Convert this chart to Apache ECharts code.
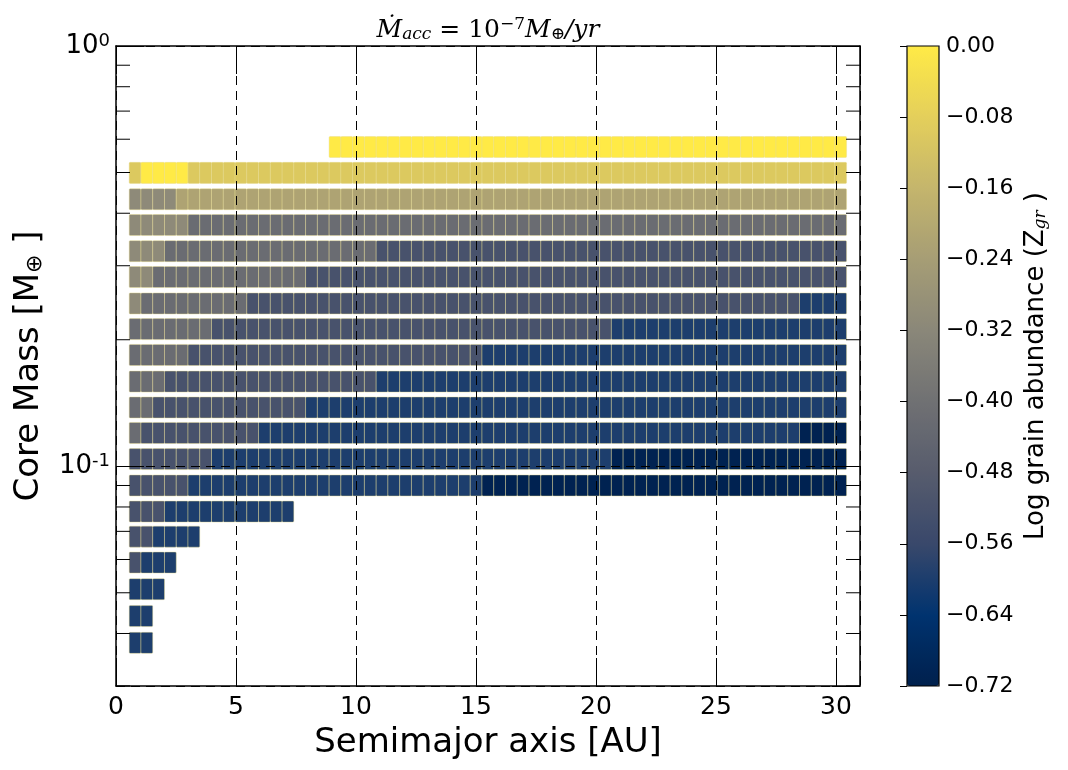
<!DOCTYPE html>
<html>
<head>
<meta charset="utf-8">
<script src="https://cdn.jsdelivr.net/npm/echarts@6/dist/echarts.min.js"></script>
<style>
  html, body { margin: 0; padding: 0; background: #fff; }
  #chart { width: 1068px; height: 770px; }
</style>
</head>
<body>
<div id="chart"></div>
<script>
// ── Data ─────────────────────────────────────────────────────────────────────

// core mass of each row of the grid [M_earth]
const coreMass = [0.038, 0.044, 0.051, 0.059, 0.068, 0.078, 0.090, 0.104, 0.120, 0.138,
                  0.159, 0.184, 0.212, 0.244, 0.282, 0.325, 0.375, 0.432, 0.499, 0.575];

// semimajor-axis cell edges of the simulation grid [AU] (61 cells, 0.55 .. 30.44)
const semimajorEdges = Array.from({ length: 62 }, (_, i) => +(0.55 + 0.49 * i).toFixed(2));

// per row: runs of [firstCell, endCell, log grain abundance]
const rowRuns = [
  [[0, 2, -0.60]],
  [[0, 2, -0.60]],
  [[0, 3, -0.60]],
  [[0, 1, -0.52], [1, 4, -0.60]],
  [[0, 2, -0.52], [2, 6, -0.60]],
  [[0, 3, -0.52], [3, 14, -0.60]],
  [[0, 5, -0.52], [5, 30, -0.60], [30, 61, -0.71]],
  [[0, 7, -0.52], [7, 41, -0.60], [41, 61, -0.71]],
  [[0, 1, -0.42], [1, 11, -0.52], [11, 57, -0.60], [57, 61, -0.71]],
  [[0, 2, -0.42], [2, 15, -0.52], [15, 61, -0.60]],
  [[0, 3, -0.42], [3, 21, -0.52], [21, 61, -0.60]],
  [[0, 5, -0.42], [5, 30, -0.52], [30, 61, -0.60]],
  [[0, 7, -0.42], [7, 41, -0.52], [41, 61, -0.60]],
  [[0, 1, -0.31], [1, 10, -0.42], [10, 57, -0.52], [57, 61, -0.60]],
  [[0, 2, -0.31], [2, 15, -0.42], [15, 61, -0.52]],
  [[0, 3, -0.31], [3, 21, -0.42], [21, 61, -0.52]],
  [[0, 5, -0.31], [5, 61, -0.42]],
  [[0, 4, -0.31], [4, 61, -0.22]],
  [[0, 1, -0.10], [1, 5, 0.00], [5, 61, -0.10]],
  [[17, 61, 0.00]],
];

// log-axis minor tick values
const minorTicks = [0.03, 0.04, 0.05, 0.06, 0.07, 0.08, 0.09,
                    0.2, 0.3, 0.4, 0.5, 0.6, 0.7, 0.8, 0.9];

// cividis colour map, low -> high
const cividis = ['#00204D', '#00336F', '#39486B', '#575C6D', '#707173',
                 '#8A8779', '#A69D75', '#C4B56C', '#E4CF5B', '#FFEA46'];

const cbarMin = -0.72, cbarMax = 0, cbarStep = 0.08;

// ── Build cells ──────────────────────────────────────────────────────────────

const cells = [];
rowRuns.forEach((runs, r) => {
  runs.forEach(([i0, i1, v]) => {
    for (let i = i0; i < i1; i++) {
      cells.push([semimajorEdges[i], semimajorEdges[i + 1], coreMass[r], v]);
    }
  });
});

const ROW_HALF = Math.pow(10, 0.025);   // half row height in dex
const FONT = 'DejaVu Sans';
const PLOT = { left: 116, top: 46, width: 744, height: 640 };
const CBAR = { left: 907, top: 46, width: 32, height: 640 };

const dashed = { color: '#000', width: 1, type: [9, 6] };

function renderCell(params, api) {
  const lo = api.coord([api.value(0), api.value(2) / ROW_HALF]);
  const hi = api.coord([api.value(1), api.value(2) * ROW_HALF]);
  return {
    type: 'rect',
    shape: { x: lo[0], y: hi[1], width: hi[0] - lo[0], height: lo[1] - hi[1], r: 1 },
    style: { fill: api.visual('color'), stroke: 'rgba(230,220,140,0.42)', lineWidth: 1 },
  };
}

function renderMinorTick(params, api) {
  const cs = params.coordSys;
  const y = api.coord([0, api.value(1)])[1];
  const len = 14;
  return {
    type: 'group',
    children: [
      { type: 'line', shape: { x1: cs.x, y1: y, x2: cs.x + len, y2: y }, style: { stroke: '#000', lineWidth: 1 } },
      { type: 'line', shape: { x1: cs.x + cs.width - len, y1: y, x2: cs.x + cs.width, y2: y }, style: { stroke: '#000', lineWidth: 1 } },
    ],
  };
}

const chart = echarts.init(document.getElementById('chart'), null, { renderer: 'canvas' });

chart.setOption({
  animation: false,
  backgroundColor: '#fff',
  textStyle: { fontFamily: FONT },
  grid: [
    { ...PLOT, outerBoundsMode: 'none' },
    { ...CBAR, outerBoundsMode: 'none' },
  ],
  xAxis: [
    {
      type: 'value', gridIndex: 0, min: 0, max: 31, interval: 5, position: 'bottom', z: 5,
      name: 'Semimajor axis [AU]', nameLocation: 'middle', nameGap: 40,
      nameTextStyle: { fontSize: 34, color: '#000', fontFamily: FONT },
      axisLine: { show: true, onZero: false, lineStyle: { color: '#000', width: 1.5 } },
      axisTick: { show: true, inside: true, length: 28, lineStyle: { color: '#000' } },
      axisLabel: { fontSize: 25, color: '#000', margin: 9, showMaxLabel: false, fontFamily: FONT },
      splitLine: { show: true, lineStyle: dashed },
    },
    {
      type: 'value', gridIndex: 0, min: 0, max: 31, interval: 5, position: 'top', z: 5,
      axisLine: { show: true, onZero: false, lineStyle: { color: '#000', width: 1.5 } },
      axisTick: { show: true, inside: true, length: 28, lineStyle: { color: '#000' } },
      axisLabel: { show: false },
      splitLine: { show: false },
    },
    { type: 'value', gridIndex: 1, min: 0, max: 1, show: false },
  ],
  yAxis: [
    {
      type: 'log', logBase: 10, gridIndex: 0, min: 0.03, max: 1, position: 'left', z: 5,
      name: '{t|Core Mass [M}{s|⊕}{t| ]}', nameLocation: 'middle', nameGap: 70, nameRotate: 90,
      nameTextStyle: {
        color: '#000',
        rich: {
          t: { fontSize: 34, fontFamily: FONT, color: '#000' },
          s: { fontSize: 22, fontFamily: FONT, color: '#000', verticalAlign: 'bottom', padding: [12, 0, 0, 0] },
        },
      },
      axisLine: { show: true, onZero: false, lineStyle: { color: '#000', width: 1.5 } },
      axisTick: { show: true, inside: true, length: 28, lineStyle: { color: '#000' } },
      axisLabel: {
        margin: 6, showMinLabel: false,
        formatter: v => `{b|10}{e|${Math.round(Math.log10(v))}}`,
        rich: {
          b: { fontSize: 26, fontFamily: FONT, color: '#000' },
          e: { fontSize: 18, fontFamily: FONT, color: '#000', verticalAlign: 'top', padding: [0, 0, 10, 0] },
        },
      },
      splitLine: { show: true, lineStyle: dashed },
    },
    {
      type: 'log', logBase: 10, gridIndex: 0, min: 0.03, max: 1, position: 'right', z: 5,
      axisLine: { show: true, onZero: false, lineStyle: { color: '#000', width: 1.5 } },
      axisTick: { show: true, inside: true, length: 28, lineStyle: { color: '#000' } },
      axisLabel: { show: false },
      splitLine: { show: false },
    },
    {
      type: 'value', gridIndex: 1, min: cbarMin, max: cbarMax, interval: cbarStep, position: 'right', z: 10,
      axisLine: { show: false },
      axisTick: { show: true, inside: true, length: 7, lineStyle: { color: '#000' } },
      axisLabel: {
        fontSize: 22, color: '#000', margin: 7, fontFamily: FONT,
        formatter: v => (Math.abs(v) < 1e-9 ? '0.00' : v.toFixed(2).replace('-', '\u2212')),
      },
      splitLine: { show: false },
    },
  ],
  visualMap: {
    type: 'continuous', seriesIndex: 0, dimension: 3,
    min: cbarMin, max: cbarMax, calculable: false, hoverLink: false,
    orient: 'vertical', left: CBAR.left, top: CBAR.top, padding: 0,
    itemWidth: CBAR.width, itemHeight: CBAR.height,
    text: null, showLabel: false,
    inRange: { color: cividis },
  },
  graphic: [
    {
      type: 'rect', z: 100, silent: true,
      shape: { x: CBAR.left, y: CBAR.top, width: CBAR.width, height: CBAR.height },
      style: { fill: 'none', stroke: '#000', lineWidth: 1.2 },
    },
    {
      type: 'text', z: 100, x: 488, y: 30,
      style: {
        text: '{m|Ṁ}{s|acc}{n| = 10}{p|−7}{m|M}{s|⊕}{m|/yr}',
        align: 'center', verticalAlign: 'middle',
        rich: {
          m: { fontSize: 25, fontFamily: 'DejaVu Serif', fontStyle: 'italic', fill: '#000' },
          n: { fontSize: 25, fontFamily: 'DejaVu Serif', fill: '#000' },
          s: { fontSize: 17, fontFamily: 'DejaVu Serif', fontStyle: 'italic', fill: '#000', verticalAlign: 'bottom', padding: [10, 0, 0, 0] },
          p: { fontSize: 17, fontFamily: 'DejaVu Serif', fill: '#000', verticalAlign: 'top', padding: [0, 0, 10, 0] },
        },
      },
    },
    {
      type: 'text', z: 100, x: 1036, y: 366, rotation: Math.PI / 2,
      style: {
        text: '{t|Log grain abundance (Z}{s|gr}{t| )}',
        align: 'center', verticalAlign: 'middle',
        rich: {
          t: { fontSize: 26, fontFamily: FONT, fill: '#000' },
          s: { fontSize: 17, fontFamily: 'DejaVu Serif', fontStyle: 'italic', fill: '#000', verticalAlign: 'bottom', padding: [10, 0, 0, 0] },
        },
      },
    },
  ],
  series: [
    {
      type: 'custom', name: 'cells', xAxisIndex: 0, yAxisIndex: 0, z: 2,
      renderItem: renderCell,
      encode: { x: [0, 1], y: 2 },
      data: cells,
    },
    {
      type: 'custom', name: 'minor ticks', xAxisIndex: 0, yAxisIndex: 0, z: 6, silent: true,
      renderItem: renderMinorTick,
      encode: { x: 0, y: 1 },
      data: minorTicks.map(v => [0, v]),
    },
  ],
});
</script>
</body>
</html>
